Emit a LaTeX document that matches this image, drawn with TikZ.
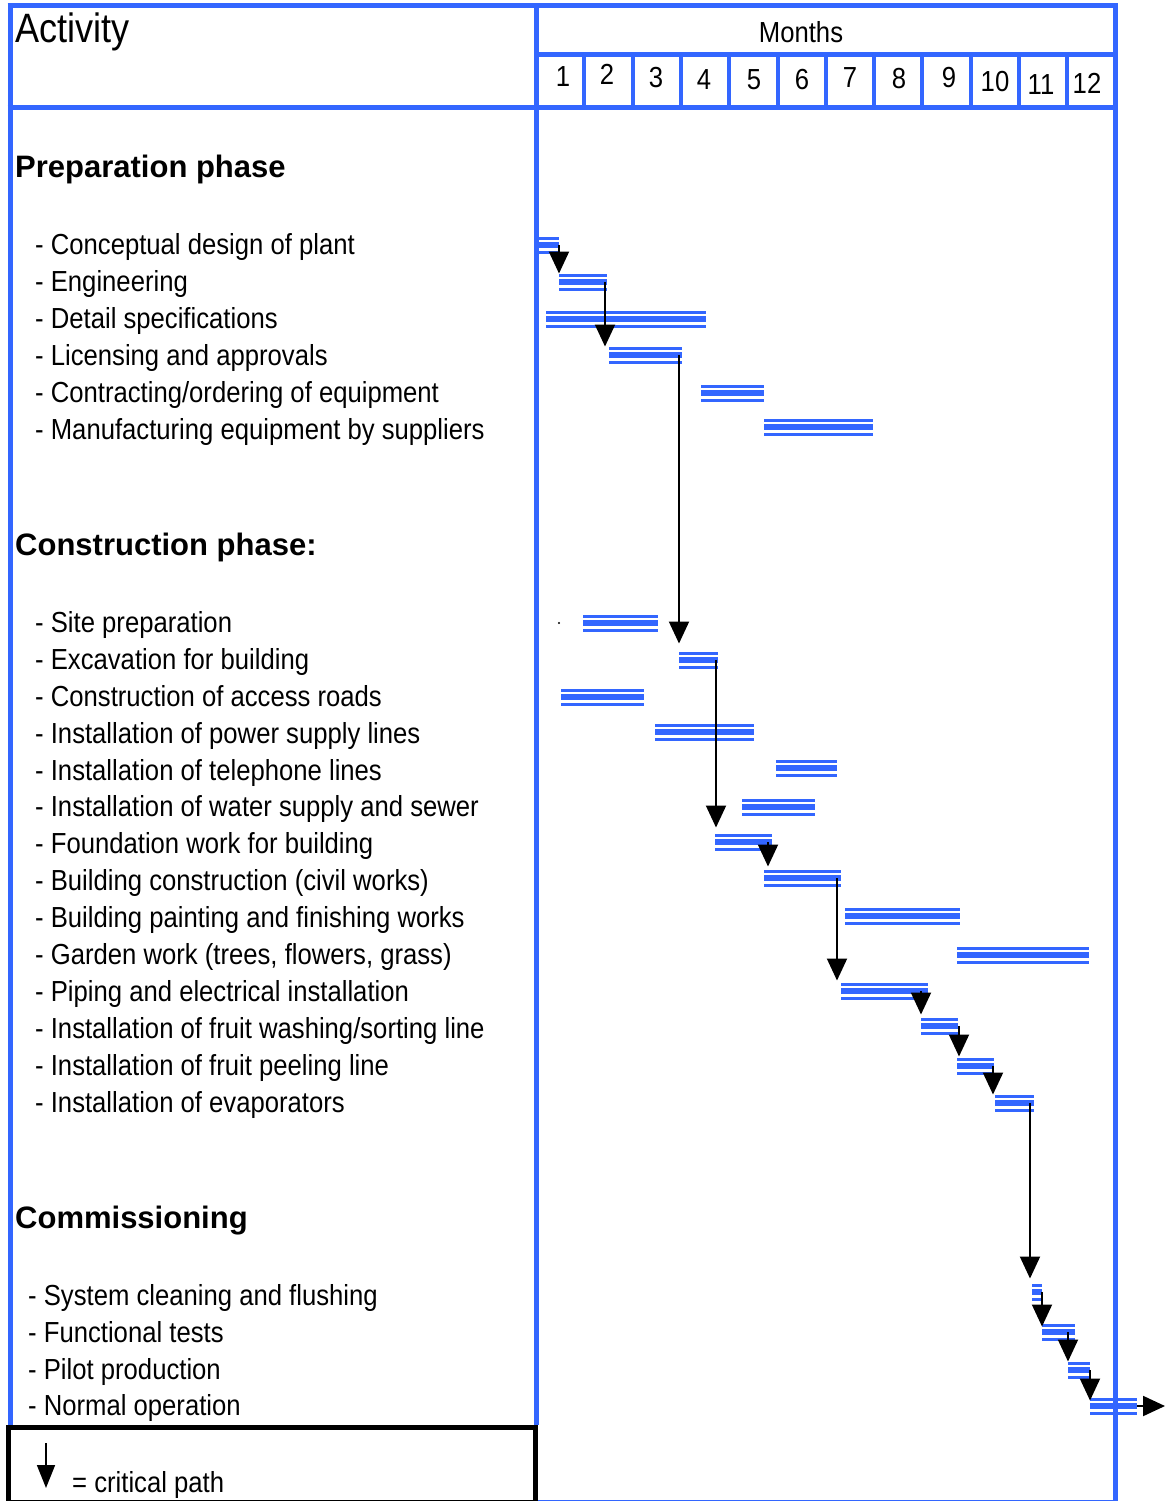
\documentclass[tikz,border=0pt]{standalone}
\usepackage{fontspec}
\setmainfont{Liberation Sans}
\newfontfamily\itemfont{Liberation Sans}[FakeStretch=0.885]
\newfontfamily\titlefont{Liberation Sans}[FakeStretch=0.88]
\usetikzlibrary{arrows.meta}
\definecolor{gblue}{RGB}{51,102,255}

% a Gantt bar: name, start x, end x, row y
\newcommand\gbar[4]{%
  \pgfmathsetmacro\gbarw{#3-#2}%
  \node[barnode, minimum width=\gbarw pt] (#1) at ({(#2+#3)/2},#4) {};}

\begin{document}
\begin{tikzpicture}[x=1pt,y=-1pt,
  frame/.style={gblue, line width=5pt},
  barnode/.style={inner sep=0pt, outer sep=0pt, minimum height=17pt,
    path picture={
      \fill[gblue] (path picture bounding box.north west) rectangle ([yshift=-3pt]path picture bounding box.north east);
      \fill[gblue] ([yshift=3pt]path picture bounding box.west) rectangle ([yshift=-3pt]path picture bounding box.east);
      \fill[gblue] ([yshift=3pt]path picture bounding box.south west) rectangle (path picture bounding box.south east);
    }},
  crit/.style={line width=2pt, -{Triangle[length=22pt,width=20pt]}},
  legarrow/.style={line width=1.5pt, -{Triangle[length=23pt,width=18pt]}},
  item/.style={anchor=base west, inner sep=0pt, font=\itemfont\fontsize{29}{31}\selectfont},
  phase/.style={anchor=base west, inner sep=0pt, font=\bfseries\fontsize{31}{34}\selectfont},
  title/.style={anchor=base west, inner sep=0pt, font=\titlefont\fontsize{41}{44}\selectfont},
  month/.style={anchor=base, inner sep=0pt, font=\itemfont\fontsize{29}{31}\selectfont},
]
\useasboundingbox (0,0) rectangle (1168,1501);
\fill[white] (0,0) rectangle (1168,1501);

% table frame
\draw[frame] (10,4) -- (10,1427);
\draw[frame] (7.5,6) -- (1118,6);
\draw[frame] (536,6) -- (536,1425);
\draw[frame] (1115.5,6) -- (1115.5,1503);
\draw[frame] (536,55) -- (1118,55);
\draw[frame] (7.5,107.5) -- (1118,107.5);
\foreach \i in {1,...,11}
  \draw[frame, line width=4pt] ({536+\i*48.3},55) -- ({536+\i*48.3},107.5);
\draw[gblue, line width=2pt] (536,1500.5) -- (1118,1500.5);

% header
\node[title] (hact) at (15,43) {Activity};
\node[month] (hmon) at (801,43) {Months};
\foreach \n/\x/\y in {1/563/87, 2/607/85, 3/656/88, 4/704/90, 5/754/90, 6/802/90,
                      7/850/88, 8/899/89, 9/949/88, 10/995/92, 11/1041/95, 12/1087/94}
  \node[month] (m\n) at (\x,\y) {\n};

% preparation phase
\node[phase] (hprep) at (15,177) {Preparation phase};
\node[item] (tp1) at (35,254) {- Conceptual design of plant};
\node[item] (tp2) at (35,291) {- Engineering};
\node[item] (tp3) at (35,328) {- Detail specifications};
\node[item] (tp4) at (35,365) {- Licensing and approvals};
\node[item] (tp5) at (35,402) {- Contracting/ordering of equipment};
\node[item] (tp6) at (35,439) {- Manufacturing equipment by suppliers};

\gbar{pconc}{537}{559}{245}
\gbar{peng}{559}{607}{282}
\gbar{pdet}{546}{706}{319}
\gbar{plic}{609}{682}{355}
\gbar{pcon}{701}{764}{393}
\gbar{pman}{764}{873}{427}

% construction phase
\node[phase] (hcons) at (15,555) {Construction phase:};
\node[item] (tc1) at (35,632) {- Site preparation};
\node[item] (tc2) at (35,669) {- Excavation for building};
\node[item] (tc3) at (35,706) {- Construction of access roads};
\node[item] (tc4) at (35,743) {- Installation of power supply lines};
\node[item] (tc5) at (35,780) {- Installation of telephone lines};
\node[item] (tc6) at (35,816) {- Installation of water supply and sewer};
\node[item] (tc7) at (35,853) {- Foundation work for building};
\node[item] (tc8) at (35,890) {- Building construction (civil works)};
\node[item] (tc9) at (35,927) {- Building painting and finishing works};
\node[item] (tc10) at (35,964) {- Garden work (trees, flowers, grass)};
\node[item] (tc11) at (35,1001) {- Piping and electrical installation};
\node[item] (tc12) at (35,1038) {- Installation of fruit washing/sorting line};
\node[item] (tc13) at (35,1075) {- Installation of fruit peeling line};
\node[item] (tc14) at (35,1112) {- Installation of evaporators};

\fill (559,623) circle (1.2pt);
\gbar{csite}{583}{658}{623}
\gbar{cexc}{679}{718}{660}
\gbar{croad}{561}{644}{697}
\gbar{cpow}{655}{754}{732}
\gbar{ctel}{776}{837}{768}
\gbar{cwat}{742}{815}{807}
\gbar{cfnd}{715}{772}{842}
\gbar{cbld}{764}{841}{878}
\gbar{cpnt}{845}{960}{916}
\gbar{cgdn}{957}{1089}{955}
\gbar{cpip}{841}{928}{991}
\gbar{cwsh}{921}{958}{1026}
\gbar{cpee}{957}{994}{1066}
\gbar{cevp}{995}{1034}{1103}

% commissioning
\node[phase] (hcom) at (15,1228) {Commissioning};
\node[item] (tm1) at (28,1305) {- System cleaning and flushing};
\node[item] (tm2) at (28,1342) {- Functional tests};
\node[item] (tm3) at (28,1379) {- Pilot production};
\node[item] (tm4) at (28,1415) {- Normal operation};

\gbar{mcln}{1032}{1042}{1292}
\gbar{mfun}{1042}{1075}{1332}
\gbar{mpil}{1068}{1090}{1370}
\gbar{mnor}{1090}{1137}{1406}
\coordinate (mout) at (1165,1406);

% critical path
\draw[crit] (pconc.east) -- (pconc.east |- peng.north);
\draw[crit] ([xshift=-2pt]peng.east) -- ([xshift=-2pt]peng.east |- plic.north);
\draw[crit, shorten >=8pt] ([xshift=-3pt]plic.east) -- ([xshift=-3pt]plic.east |- cexc.north);
\draw[crit, shorten >=6pt] ([xshift=-2pt]cexc.east) -- ([xshift=-2pt]cexc.east |- cfnd.north);
\draw[crit, shorten >=3pt] ([xshift=-4pt]cfnd.east) -- ([xshift=-4pt]cfnd.east |- cbld.north);
\draw[crit, shorten >=2pt] ([xshift=-4pt]cbld.east) -- ([xshift=-4pt]cbld.east |- cpip.north);
\draw[crit, shorten >=3pt] (cpip.center -| cwsh.west) -- (cwsh.north west);
\draw[crit, shorten >=1pt] ([xshift=2pt]cwsh.center -| cpee.west) -- ([xshift=2pt]cpee.north west);
\draw[crit] ([xshift=-2pt]cpee.center -| cevp.west) -- ([xshift=-2pt]cevp.north west);
\draw[crit, shorten >=5pt] ([xshift=-4pt]cevp.east) -- ([xshift=-4pt]cevp.east |- mcln.north);
\draw[crit] (mcln.east) -- ([yshift=-3pt]mcln.east |- mfun.north);
\draw[crit] (mfun.center -| mpil.west) -- (mpil.north west);
\draw[crit] (mpil.center -| mnor.west) -- ([yshift=-3pt]mnor.north west);
\draw[crit] (mnor.east) -- (mout);

% legend
\draw[line width=5pt] (8,1427) rectangle (535.5,1502);
\coordinate (lga) at (46,1443);
\coordinate (lgb) at (46,1488);
\draw[legarrow] (lga) -- (lgb);
\node[item] (lgt) at (72,1492) {= critical path};
\end{tikzpicture}
\end{document}
